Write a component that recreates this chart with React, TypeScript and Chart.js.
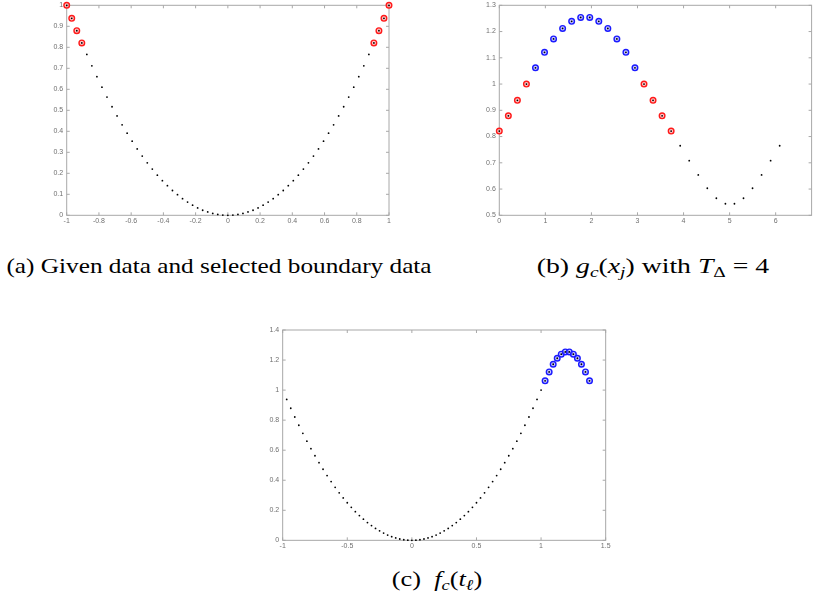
import React, { useEffect, useLayoutEffect, useRef } from 'react';
import { Chart, registerables } from 'chart.js';

Chart.register(...registerables);

// ---------- Panel (a): given data and selected boundary data ----------
const aX = [
  -1, -0.96875, -0.9375, -0.90625, -0.875, -0.84375, -0.8125, -0.78125, -0.75, -0.71875,
  -0.6875, -0.65625, -0.625, -0.59375, -0.5625, -0.53125, -0.5, -0.46875, -0.4375, -0.40625,
  -0.375, -0.34375, -0.3125, -0.28125, -0.25, -0.21875, -0.1875, -0.15625, -0.125, -0.09375,
  -0.0625, -0.03125, 0, 0.03125, 0.0625, 0.09375, 0.125, 0.15625, 0.1875, 0.21875,
  0.25, 0.28125, 0.3125, 0.34375, 0.375, 0.40625, 0.4375, 0.46875, 0.5, 0.53125,
  0.5625, 0.59375, 0.625, 0.65625, 0.6875, 0.71875, 0.75, 0.78125, 0.8125, 0.84375,
  0.875, 0.90625, 0.9375, 0.96875, 1,
];
const aY = [
  1, 0.938, 0.879, 0.821, 0.766, 0.712, 0.66, 0.61, 0.563, 0.517,
  0.473, 0.431, 0.391, 0.353, 0.316, 0.282, 0.25, 0.22, 0.191, 0.165,
  0.141, 0.118, 0.098, 0.079, 0.063, 0.048, 0.035, 0.024, 0.016, 0.009,
  0.004, 0.001, 0, 0.001, 0.004, 0.009, 0.016, 0.024, 0.035, 0.048,
  0.063, 0.079, 0.098, 0.118, 0.141, 0.165, 0.191, 0.22, 0.25, 0.282,
  0.316, 0.353, 0.391, 0.431, 0.473, 0.517, 0.563, 0.61, 0.66, 0.712,
  0.766, 0.821, 0.879, 0.938, 1,
];
const aSelectedIdx = [0, 1, 2, 3, 61, 62, 63, 64];
const aXTicks = [-1, -0.8, -0.6, -0.4, -0.2, 0, 0.2, 0.4, 0.6, 0.8, 1];
const aYTicks = [0, 0.1, 0.2, 0.3, 0.4, 0.5, 0.6, 0.7, 0.8, 0.9, 1];

// ---------- Panel (b): g_c(x_j) with T_Delta = 4 ----------
const bX = [
  0, 0.19635, 0.3927, 0.58905, 0.7854, 0.98175, 1.1781, 1.37445, 1.5708, 1.76715,
  1.9635, 2.15984, 2.35619, 2.55254, 2.74889, 2.94524, 3.14159, 3.33794, 3.53429, 3.73064,
  3.92699, 4.12334, 4.31969, 4.51604, 4.71239, 4.90874, 5.10509, 5.30144, 5.49779, 5.69414,
  5.89049, 6.08684,
];
const bY = [
  0.821, 0.879, 0.938, 1.0, 1.062, 1.121, 1.172, 1.212, 1.239, 1.254,
  1.254, 1.239, 1.212, 1.172, 1.121, 1.062, 1.0, 0.938, 0.879, 0.821,
  0.765, 0.708, 0.654, 0.603, 0.565, 0.544, 0.544, 0.565, 0.603, 0.654,
  0.708, 0.765,
];
const bRedIdx = [0, 1, 2, 3, 16, 17, 18, 19];
const bBlueIdx = [4, 5, 6, 7, 8, 9, 10, 11, 12, 13, 14, 15];
const bXTicks = [0, 1, 2, 3, 4, 5, 6];
const bYTicks = [0.5, 0.6, 0.7, 0.8, 0.9, 1, 1.1, 1.2, 1.3];

// ---------- Panel (c): f_c(t_l) ----------
const cBlackX = aX.slice(1);
const cBlackY = aY.slice(1);
const cBlueX = [1.03125, 1.0625, 1.09375, 1.125, 1.15625, 1.1875, 1.21875, 1.25, 1.28125, 1.3125, 1.34375, 1.375];
const cBlueY = [1.062, 1.121, 1.172, 1.212, 1.239, 1.254, 1.254, 1.239, 1.212, 1.172, 1.121, 1.062];
const cXTicks = [-1, -0.5, 0, 0.5, 1, 1.5];
const cYTicks = [0, 0.2, 0.4, 0.6, 0.8, 1, 1.2, 1.4];

const BOX_COLOR = '#a8a8a8';
const LABEL_COLOR = '#707070';

const pts = (xs: number[], ys: number[], idx?: number[]) =>
  (idx ?? xs.map((_, i) => i)).map((i) => ({ x: xs[i], y: ys[i] }));

const dotStyle = {
  showLine: false,
  pointRadius: 0.9,
  pointBorderWidth: 0,
  pointBackgroundColor: '#000000',
  pointBorderColor: '#000000',
  clip: false as any,
};
const circleStyle = (stroke: string, fill: string) => ({
  showLine: false,
  pointRadius: 2.8,
  pointBorderWidth: 1.4,
  pointBackgroundColor: fill,
  pointBorderColor: stroke,
  clip: false as any,
});
const RED = circleStyle('#ff1a1a', 'rgba(255,150,150,0.55)');
const BLUE = circleStyle('#1a1aff', 'rgba(150,150,255,0.55)');

const boxPlugin = {
  id: 'matlabBox',
  beforeDatasetsDraw(chart: any) {
    const { ctx, chartArea } = chart;
    const { left, right, top, bottom } = chartArea;
    const xs = chart.scales.x;
    const ys = chart.scales.y;
    ctx.save();
    ctx.strokeStyle = BOX_COLOR;
    ctx.lineWidth = 1;
    ctx.strokeRect(left, top, right - left, bottom - top);
    const tl = 3;
    ctx.beginPath();
    xs.ticks.forEach((t: any) => {
      const p = xs.getPixelForValue(t.value);
      ctx.moveTo(p, bottom);
      ctx.lineTo(p, bottom - tl);
      ctx.moveTo(p, top);
      ctx.lineTo(p, top + tl);
    });
    ys.ticks.forEach((t: any) => {
      const p = ys.getPixelForValue(t.value);
      ctx.moveTo(left, p);
      ctx.lineTo(left + tl, p);
      ctx.moveTo(right, p);
      ctx.lineTo(right - tl, p);
    });
    ctx.stroke();
    ctx.restore();
  },
};

type PanelProps = {
  left: number; top: number; width: number; height: number;
  padTop: number; padRight: number; yAxisWidth: number; xAxisHeight: number;
  xMin: number; xMax: number; yMin: number; yMax: number;
  xTicks: number[]; yTicks: number[]; datasets: any[];
};

function Panel(p: PanelProps) {
  const ref = useRef<HTMLCanvasElement | null>(null);
  useEffect(() => {
    if (!ref.current) return;
    const tickFont = { family: 'Liberation Sans', size: 7 };
    const chart = new Chart(ref.current, {
      type: 'scatter',
      data: { datasets: p.datasets },
      options: {
        animation: false,
        responsive: false,
        layout: { padding: { left: 0, top: p.padTop, right: p.padRight, bottom: 0 } },
        plugins: { legend: { display: false }, tooltip: { enabled: false } },
        scales: {
          x: {
            type: 'linear', min: p.xMin, max: p.xMax,
            grid: { display: false, drawTicks: false },
            border: { display: false },
            afterBuildTicks: (s: any) => { s.ticks = p.xTicks.map((v) => ({ value: v })); },
            afterFit: (s: any) => { s.height = p.xAxisHeight; },
            ticks: { font: tickFont, color: LABEL_COLOR, padding: 2, maxRotation: 0, autoSkip: false, callback: (v: any) => String(v) },
          },
          y: {
            type: 'linear', min: p.yMin, max: p.yMax,
            grid: { display: false, drawTicks: false },
            border: { display: false },
            afterBuildTicks: (s: any) => { s.ticks = p.yTicks.map((v) => ({ value: v })); },
            afterFit: (s: any) => { s.width = p.yAxisWidth; },
            ticks: { font: tickFont, color: LABEL_COLOR, padding: 3.5, autoSkip: false, callback: (v: any) => String(v) },
          },
        },
      } as any,
      plugins: [boxPlugin],
    });
    return () => chart.destroy();
  }, []);
  return (
    <canvas
      ref={ref}
      width={p.width}
      height={p.height}
      style={{ position: 'absolute', left: p.left, top: p.top, width: p.width, height: p.height }}
    />
  );
}

const SERIF = '"Liberation Serif", serif';

function Caption({ cx, cy, targetWidth, children }: { cx: number; cy: number; targetWidth: number; children: React.ReactNode }) {
  const ref = useRef<HTMLSpanElement | null>(null);
  useLayoutEffect(() => {
    const el = ref.current;
    if (!el) return;
    const w = el.offsetWidth;
    const s = w > 0 ? targetWidth / w : 1;
    el.style.transform = `translateX(-50%) scaleX(${s})`;
  }, []);
  const size = 22;
  return (
    <span
      ref={ref}
      style={{
        position: 'absolute', left: cx, top: cy - size * 0.6, whiteSpace: 'nowrap',
        fontFamily: SERIF, fontSize: size, lineHeight: `${size}px`,
        color: '#000', transformOrigin: '50% 50%', display: 'inline-block', transform: 'translateX(-50%)',
      }}
    >
      {children}
    </span>
  );
}

const subStyle: React.CSSProperties = { fontSize: '0.7em', verticalAlign: '-0.28em', lineHeight: 0, fontFamily: SERIF };
const mathStyle: React.CSSProperties = { fontStyle: 'italic', fontFamily: SERIF };

export default function App() {
  const aDatasets = [
    { ...dotStyle, data: pts(aX, aY) },
    { ...RED, data: pts(aX, aY, aSelectedIdx) },
  ];
  const bDatasets = [
    { ...dotStyle, data: pts(bX, bY) },
    { ...RED, data: pts(bX, bY, bRedIdx) },
    { ...BLUE, data: pts(bX, bY, bBlueIdx) },
  ];
  const cDatasets = [
    { ...dotStyle, data: [...pts(cBlackX, cBlackY), ...pts(cBlueX, cBlueY)] },
    { ...BLUE, data: pts(cBlueX, cBlueY) },
  ];
  return (
    <div style={{ position: 'fixed', left: 0, top: 0, width: 817, height: 614, overflow: 'hidden', background: '#fff' }}>
      <Panel left={0} top={-30} width={410} height={265} padTop={35.3} padRight={21} yAxisWidth={66.7} xAxisHeight={19.7}
        xMin={-1} xMax={1} yMin={0} yMax={1} xTicks={aXTicks} yTicks={aYTicks} datasets={aDatasets} />
      <Panel left={430} top={-30} width={387} height={265} padTop={35.3} padRight={5.3} yAxisWidth={69.3} xAxisHeight={19.7}
        xMin={0} xMax={6.78} yMin={0.5} yMax={1.3} xTicks={bXTicks} yTicks={bYTicks} datasets={bDatasets} />
      <Panel left={200} top={300} width={420} height={262} padTop={30} padRight={14.33} yAxisWidth={82.67} xAxisHeight={21.67}
        xMin={-1} xMax={1.5} yMin={0} yMax={1.4} xTicks={cXTicks} yTicks={cYTicks} datasets={cDatasets} />
      <Caption cx={219} cy={268} targetWidth={425}>(a) Given data and selected boundary data</Caption>
      <Caption cx={653} cy={268} targetWidth={232}>
        (b) <span style={mathStyle}>g</span><span style={subStyle}><span style={mathStyle}>c</span></span>(<span style={mathStyle}>x</span><span style={subStyle}><span style={mathStyle}>j</span></span>) with{' '}
        <span style={mathStyle}>T</span><span style={subStyle}>Δ</span> = 4
      </Caption>
      <Caption cx={437} cy={581} targetWidth={91}>
        (c)&nbsp; <span style={mathStyle}>f</span><span style={subStyle}><span style={mathStyle}>c</span></span>(<span style={mathStyle}>t</span><span style={subStyle}><span style={mathStyle}>ℓ</span></span>)
      </Caption>
    </div>
  );
}
